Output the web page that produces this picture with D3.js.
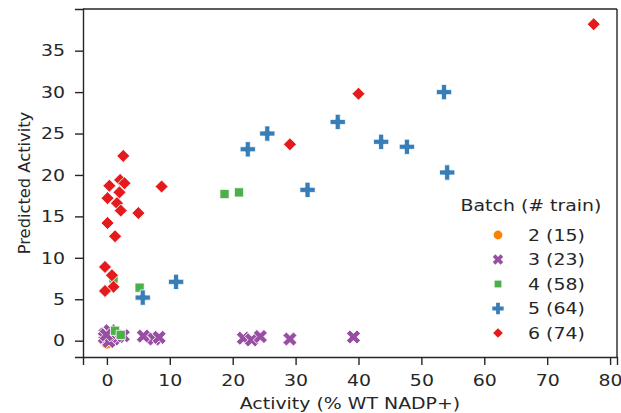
<!DOCTYPE html>
<html>
<head>
<meta charset="utf-8">
<script src="https://cdn.jsdelivr.net/npm/d3@7"></script>
<style>
  body { margin: 0; background: #fff; }
  text { font-family: "DejaVu Sans", sans-serif; fill: #262626; }
</style>
</head>
<body>
<div id="chart"></div>
<script>
var svgWidth = 621;
var svgHeight = 413;

var margin = { top: 9, right: 4, bottom: 56, left: 83 };
var width = svgWidth - margin.left - margin.right;
var height = svgHeight - margin.top - margin.bottom;

// text in the picture is a little wider than it is tall
var stretch = 1.16;
var fontSize = 16.3;

// data
var batches = ["2", "3", "4", "5", "6"];
var batchLabels = ["2 (15)", "3 (23)", "4 (58)", "5 (64)", "6 (74)"];
var batchColors = ["#ff7f00", "#984ea3", "#4daf4a", "#377eb8", "#e41a1c"];

var batch2 = [[0.0, -0.3]];
var batch3 = [
  [-0.3, 0.8], [0.1, 0.3], [0.5, 1.2], [-0.4, 0.4], [1.0, 0.2], [1.8, 0.5],
  [2.6, 0.6], [0.3, -0.1], [-0.1, 0.7], [5.8, 0.55], [7.5, 0.2], [8.3, 0.4],
  [21.7, 0.3], [23.0, 0.1], [24.4, 0.5], [29.1, 0.2], [39.2, 0.45]
];
var batch4 = [
  [1.3, 1.2], [2.2, 0.7], [1.05, 7.5], [5.2, 6.4], [18.7, 17.7], [21.0, 17.9]
];
var batch5 = [
  [5.7, 5.2], [11.0, 7.1], [22.4, 23.1], [25.5, 25.0], [31.9, 18.2],
  [36.7, 26.4], [43.6, 24.0], [47.7, 23.4], [53.6, 30.0], [54.1, 20.3]
];
var batch6 = [
  [2.6, 22.3], [0.4, 18.7], [2.1, 19.4], [2.8, 19.0], [2.0, 17.9], [0.1, 17.2],
  [1.6, 16.6], [2.2, 15.7], [5.0, 15.4], [8.7, 18.6], [0.1, 14.2], [1.3, 12.6],
  [-0.3, 8.9], [0.8, 7.9], [1.05, 6.5], [-0.3, 6.0],
  [29.1, 23.7], [40.0, 29.8], [77.4, 38.2]
];
var batchData = [batch2, batch3, batch4, batch5, batch6];

var xTicks = [0, 10, 20, 30, 40, 50, 60, 70, 80];
var yTicks = [0, 5, 10, 15, 20, 25, 30, 35];

var svg = d3.select("#chart")
  .append("svg")
  .attr("width", svgWidth)
  .attr("height", svgHeight);

var chartGroup = svg.append("g")
  .attr("transform", `translate(${margin.left}, ${margin.top})`);

var xScale = d3.scaleLinear().domain([-3.8, 81.1]).range([0, width]);
var yScale = d3.scaleLinear().domain([-1.97, 40.03]).range([height, 0]);

// marker shapes like seaborn's defaults: o, X, square, P, diamond
function markerPath(i, size) {
  var types = [d3.symbolCircle, d3.symbolCross, d3.symbolSquare, d3.symbolCross, d3.symbolSquare];
  return d3.symbol().type(types[i]).size(size)();
}
var markerRotate = [0, 45, 0, 0, 45];
var markerSize = [110, 125, 85, 130, 85];

// axes
var bottomAxis = d3.axisBottom(xScale).tickValues(xTicks).tickSize(8);
var leftAxis = d3.axisLeft(yScale).tickValues(yTicks).tickSize(8);

var xAxisG = chartGroup.append("g")
  .attr("transform", `translate(0, ${height})`)
  .call(bottomAxis);
var yAxisG = chartGroup.append("g").call(leftAxis);

[xAxisG, yAxisG].forEach(function(g) {
  g.select(".domain").attr("stroke", "#262626").attr("stroke-width", 1.4);
  g.selectAll(".tick line").attr("stroke", "#262626").attr("stroke-width", 1.4);
  g.selectAll(".tick text")
    .attr("font-size", fontSize + "px")
    .attr("fill", "#262626")
    .style("font-family", "DejaVu Sans");
});

xAxisG.selectAll(".tick text")
  .attr("y", 29)
  .attr("dy", 0)
  .attr("transform", `scale(${stretch}, 1)`);
yAxisG.selectAll(".tick text")
  .attr("x", -18 / stretch)
  .attr("transform", `scale(${stretch}, 1)`);

// top and right spines
chartGroup.append("line").attr("x1", 0).attr("x2", width).attr("y1", 0).attr("y2", 0)
  .attr("stroke", "#262626").attr("stroke-width", 1.4);
chartGroup.append("line").attr("x1", width).attr("x2", width).attr("y1", 0).attr("y2", height)
  .attr("stroke", "#262626").attr("stroke-width", 1.4);

// points
batchData.forEach(function(pts, i) {
  chartGroup.append("g").selectAll("path")
    .data(pts)
    .enter()
    .append("path")
    .attr("d", markerPath(i, markerSize[i]))
    .attr("transform", d => `translate(${xScale(d[0])}, ${yScale(d[1])}) rotate(${markerRotate[i]})`)
    .attr("fill", batchColors[i])
    .attr("stroke", "white")
    .attr("stroke-width", 0.8);
});

// axis labels
chartGroup.append("text")
  .attr("transform", `translate(${width / 2}, ${height + 52}) scale(${stretch}, 1)`)
  .attr("text-anchor", "middle")
  .attr("font-size", fontSize + "px")
  .text("Activity (% WT NADP+)");

chartGroup.append("text")
  .attr("transform", `translate(${-margin.left + 30}, ${height / 2}) rotate(-90)`)
  .attr("text-anchor", "middle")
  .attr("font-size", fontSize + "px")
  .text("Predicted Activity");

// legend
var legend = svg.append("g").attr("transform", "translate(531, 205)");
legend.append("text")
  .attr("text-anchor", "middle")
  .attr("dy", "0.35em")
  .attr("font-size", fontSize + "px")
  .attr("transform", `scale(${stretch}, 1)`)
  .text("Batch (# train)");

batches.forEach(function(b, i) {
  var row = legend.append("g").attr("transform", `translate(0, ${30 + i * 24.5})`);
  row.append("path")
    .attr("d", markerPath(i, markerSize[i] * 0.55))
    .attr("transform", `translate(-33, 0) rotate(${markerRotate[i]})`)
    .attr("fill", batchColors[i]);
  row.append("text")
    .attr("x", -3 / stretch)
    .attr("dy", "0.35em")
    .attr("font-size", fontSize + "px")
    .attr("transform", `scale(${stretch}, 1)`)
    .text(batchLabels[i]);
});
</script>
</body>
</html>
